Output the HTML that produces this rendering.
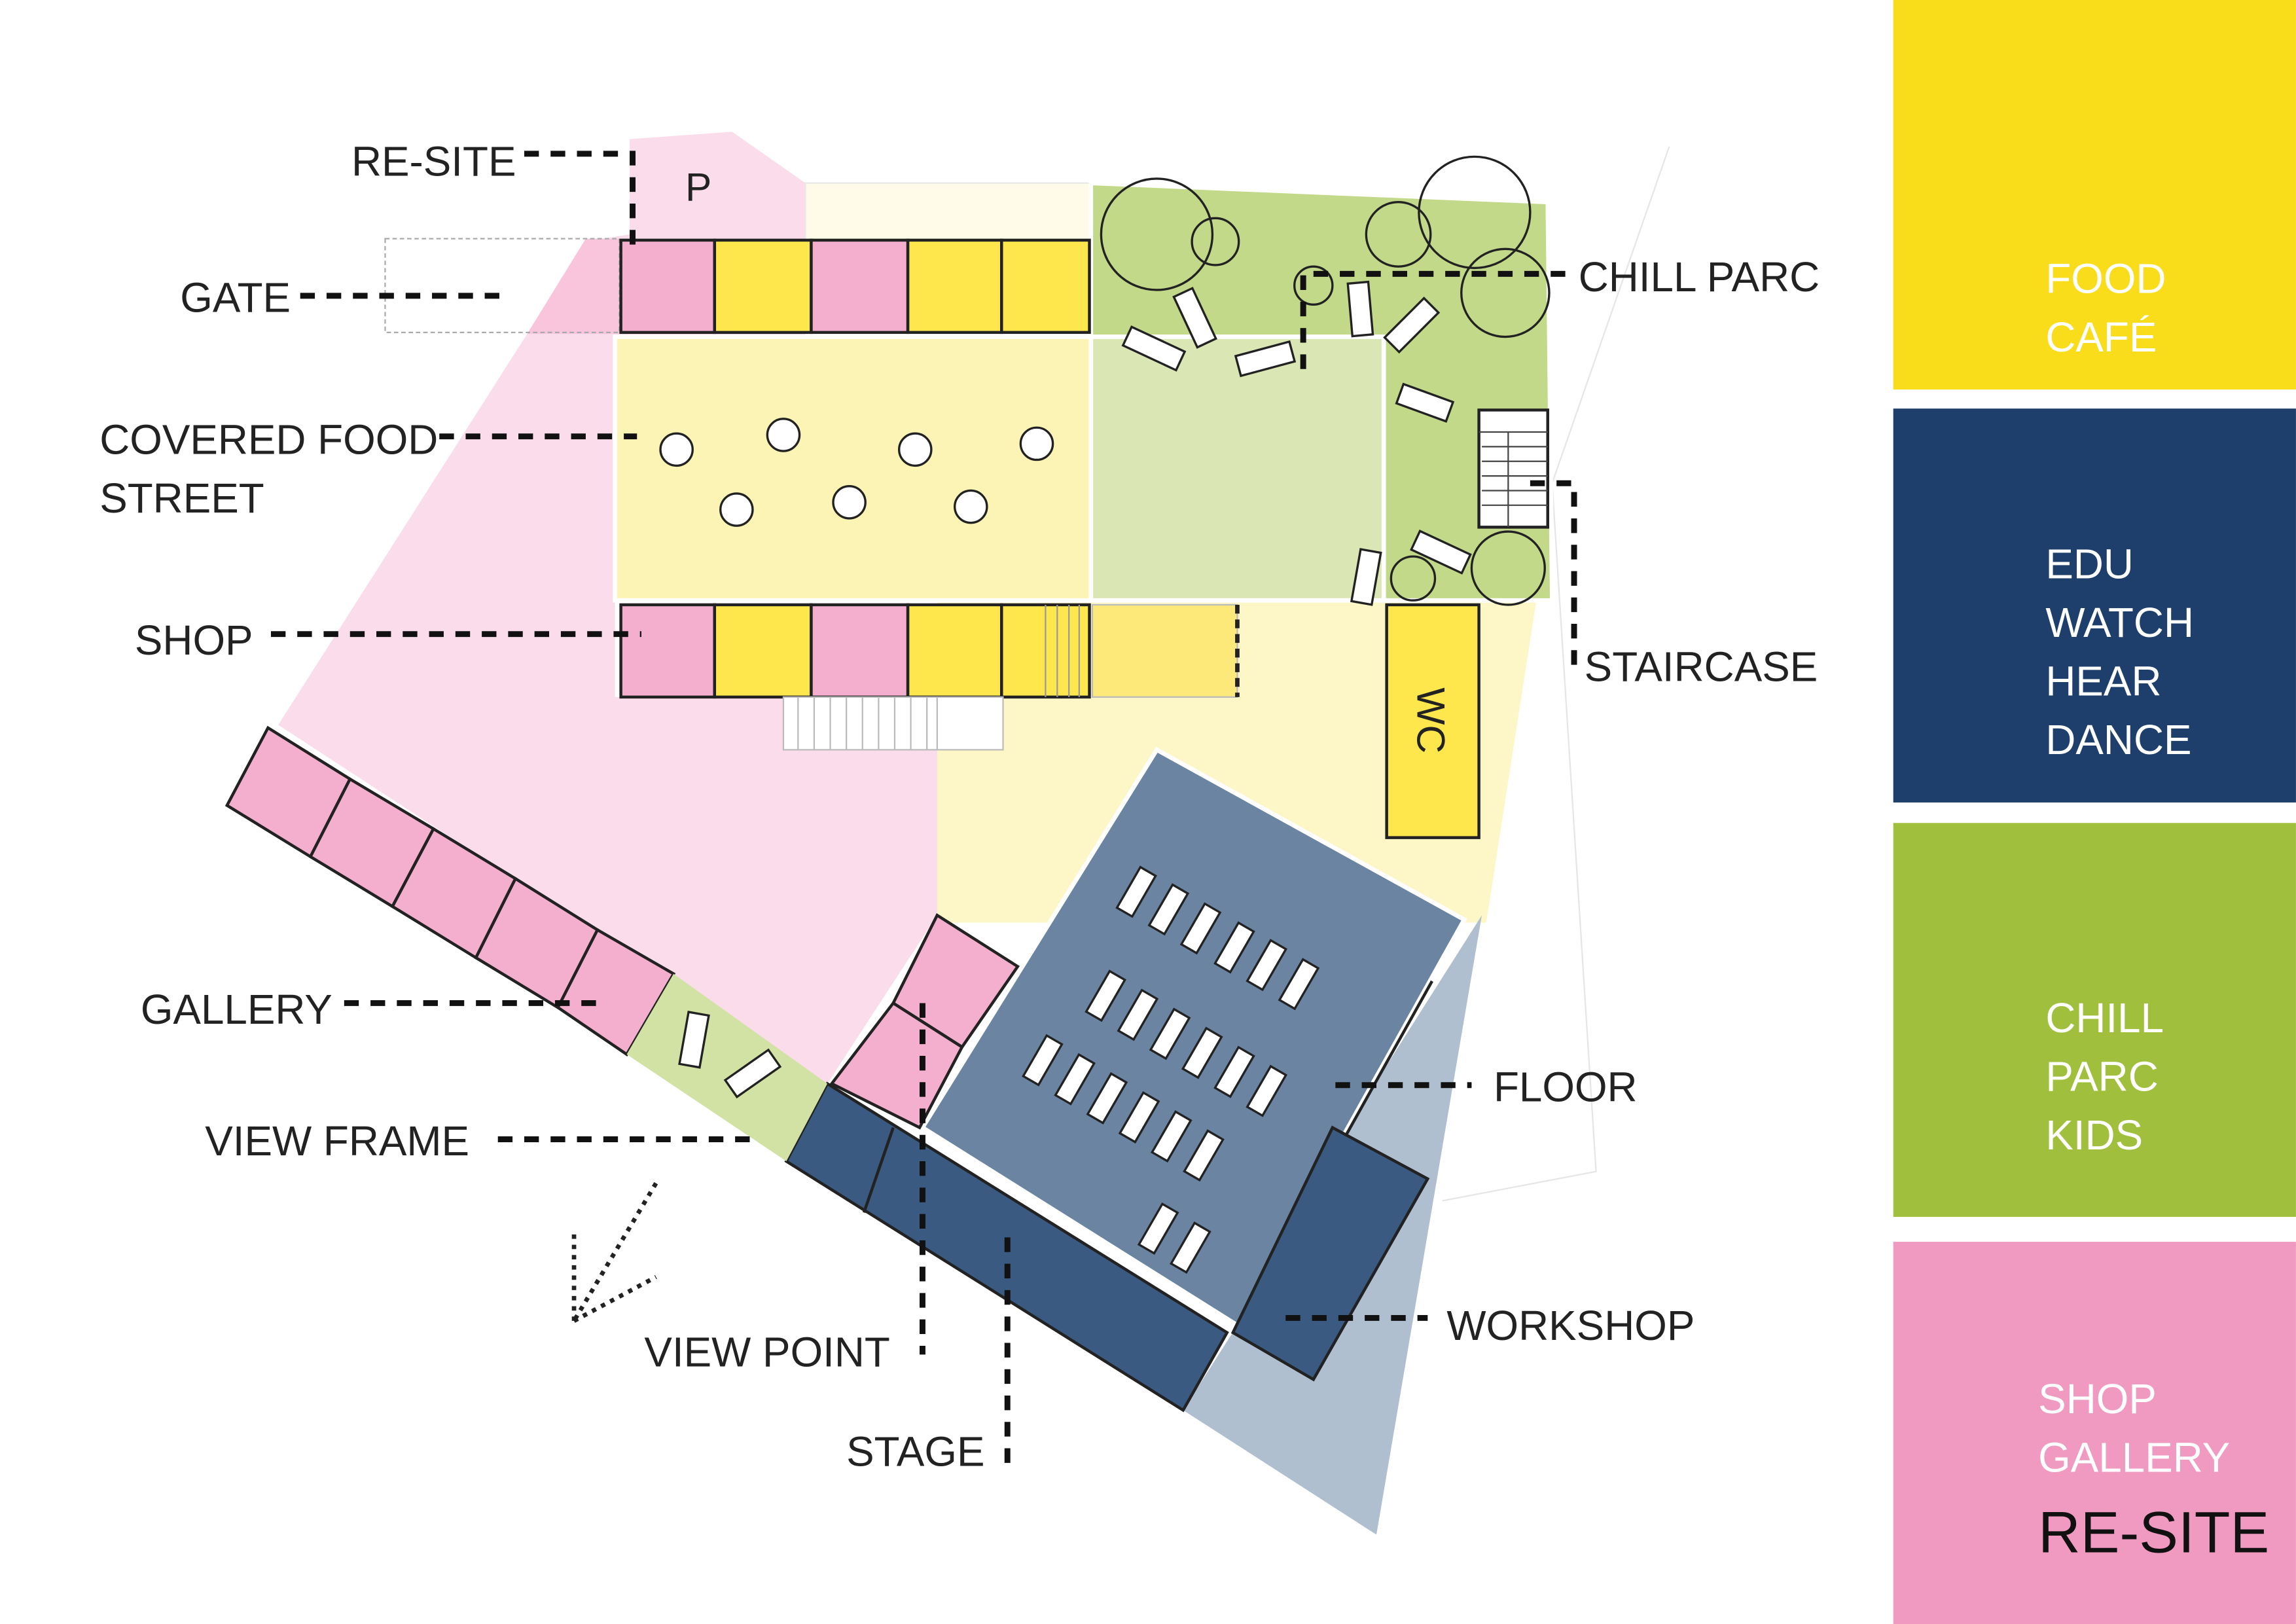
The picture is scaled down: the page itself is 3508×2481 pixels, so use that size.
<!DOCTYPE html>
<html><head><meta charset="utf-8"><style>
html,body{margin:0;padding:0;background:#fff;width:3508px;height:2481px;overflow:hidden}
svg{display:block}
text{font-family:"Liberation Sans",sans-serif}
</style></head><body>
<svg width="3508" height="2481" viewBox="0 0 1568 1109" xmlns="http://www.w3.org/2000/svg">
<!-- legend -->
<rect x="1293" y="0" width="275" height="266" fill="#f9dc1a"/>
<rect x="1293" y="279" width="275" height="269" fill="#1e3f6b"/>
<rect x="1293" y="562" width="275" height="269" fill="#a0bf3c"/>
<rect x="1293" y="848" width="275" height="261" fill="#f19ac1"/>
<g fill="#fff" font-size="28.5">
<text x="1397" y="200">FOOD</text><text x="1397" y="240">CAFÉ</text>
<text x="1397" y="395">EDU</text><text x="1397" y="435">WATCH</text><text x="1397" y="475">HEAR</text><text x="1397" y="515">DANCE</text>
<text x="1397" y="705">CHILL</text><text x="1397" y="745">PARC</text><text x="1397" y="785">KIDS</text>
<text x="1392" y="965">SHOP</text><text x="1392" y="1005">GALLERY</text>
</g>
<text x="1392" y="1060" font-size="40" fill="#111">RE-SITE</text>

<g fill="none" stroke="#e6e6e6" stroke-width="1">
<polyline points="1060,330 1140,100"/><polyline points="1060,330 1090,800 985,820"/>
</g>
<polygon points="640,405 1050,405 1015,630 640,630" fill="#fdf6c6"/>
<polygon points="430,95 500,90 550,125 550,230 420,230 420,476 640,476 640,625 565,740 190,495 360,228 400,165 430,160" fill="#fadcea"/>
<polygon points="263,228 360,228 400,165 263,165" fill="#fff"/>
<polygon points="360,228 423,228 423,163 400,163" fill="#f8c5dc"/>
<polygon points="550,125 745,125 745,165 550,165" fill="#fffbe8" stroke="#e8e8e8"/>
<polygon points="745,125 1057,138 1060,410 945,410 945,230 745,230" fill="#c3d98a" stroke="#fff" stroke-width="3"/>
<rect x="745" y="230" width="200" height="180" fill="#dbe6b5" stroke="#fff" stroke-width="3"/>
<rect x="420" y="230" width="325" height="180" fill="#fbf4b5" stroke="#fff" stroke-width="3"/>
<rect x="263" y="163" width="160" height="64" fill="none" stroke="#aaa" stroke-dasharray="3,2"/>

<g stroke="#222" stroke-width="2">
<rect x="424" y="164" width="64" height="63" fill="#f4afcf"/>
<rect x="488" y="164" width="66" height="63" fill="#fde74c"/>
<rect x="554" y="164" width="66" height="63" fill="#f4afcf"/>
<rect x="620" y="164" width="64" height="63" fill="#fde74c"/>
<rect x="684" y="164" width="60" height="63" fill="#fde74c"/>
<rect x="424" y="413" width="64" height="63" fill="#f4afcf"/>
<rect x="488" y="413" width="66" height="63" fill="#fde74c"/>
<rect x="554" y="413" width="66" height="63" fill="#f4afcf"/>
<rect x="620" y="413" width="64" height="63" fill="#fde74c"/>
<rect x="684" y="413" width="60" height="63" fill="#fde74c"/>
</g>
<g stroke="#999" stroke-width="1"><line x1="714" y1="413" x2="714" y2="476"/><line x1="722" y1="413" x2="722" y2="476"/><line x1="730" y1="413" x2="730" y2="476"/><line x1="737" y1="413" x2="737" y2="476"/></g>
<rect x="746" y="413" width="99" height="63" fill="#fde97a" stroke="#bbb"/>
<line x1="845" y1="413" x2="845" y2="476" stroke="#222" stroke-width="3" stroke-dasharray="6,4"/>
<rect x="535" y="476" width="150" height="36" fill="#fff" stroke="#bbb"/>
<g stroke="#bbb"><line x1="545" y1="476" x2="545" y2="512"/><line x1="556" y1="476" x2="556" y2="512"/><line x1="567" y1="476" x2="567" y2="512"/><line x1="578" y1="476" x2="578" y2="512"/><line x1="589" y1="476" x2="589" y2="512"/><line x1="600" y1="476" x2="600" y2="512"/><line x1="611" y1="476" x2="611" y2="512"/><line x1="622" y1="476" x2="622" y2="512"/><line x1="633" y1="476" x2="633" y2="512"/><line x1="640" y1="476" x2="640" y2="512"/></g>
<text x="468" y="137" font-size="27" fill="#222">P</text>

<rect x="947" y="413" width="63" height="159" fill="#fde74c" stroke="#222" stroke-width="2"/>
<text transform="translate(968,492) rotate(90)" font-size="27" fill="#222" text-anchor="middle">WC</text>
<rect x="1010" y="280" width="47" height="80" fill="#fff" stroke="#222" stroke-width="2"/>
<g stroke="#444" stroke-width="1"><line x1="1010" y1="295" x2="1057" y2="295"/><line x1="1012" y1="305" x2="1057" y2="305"/><line x1="1012" y1="315" x2="1057" y2="315"/><line x1="1012" y1="325" x2="1057" y2="325"/><line x1="1012" y1="335" x2="1057" y2="335"/><line x1="1012" y1="345" x2="1057" y2="345"/><line x1="1030" y1="295" x2="1030" y2="360"/></g>

<polygon points="1012,625 940,1048 808,963 845,905 920,770" fill="#b0bfd0"/>
<polygon points="790,512 1000,628 845,905 630,770" fill="#6a84a2" stroke="#fff" stroke-width="3"/>
<line x1="978" y1="670" x2="897" y2="815" stroke="#222" stroke-width="2"/>
<polygon points="565,740 838,910 808,963 537,793" fill="#3a5a82" stroke="#222" stroke-width="2"/>
<line x1="610" y1="770" x2="590" y2="828" stroke="#222" stroke-width="2"/>
<polygon points="910,770 975,805 897,942 842,910" fill="#3a5a82" stroke="#222" stroke-width="2"/>

<g stroke="#222" stroke-width="2" fill="#f4afcf">
<polygon points="183,497 239,532 212,585 155,550"/>
<polygon points="239,532 296,566 268,619 212,585"/>
<polygon points="296,566 352,600 325,654 268,619"/>
<polygon points="352,600 408,635 381,688 325,654"/>
<polygon points="408,635 460,665 428,720 381,688"/>
<polygon points="640,625 695,660 657,715 610,685"/>
<polygon points="610,685 657,715 628,770 568,740"/>
</g>
<polygon points="460,665 565,740 537,793 428,720" fill="#d2e2a4"/>
<g fill="#fff" stroke="#222" stroke-width="1.5">
<rect x="467" y="692" width="14" height="36" transform="rotate(10 474 710)"/>
<rect x="507" y="715" width="14" height="36" transform="rotate(55 514 733)"/>
</g>

<g fill="#fff" stroke="#222" stroke-width="1.5">
<rect x="770" y="593" width="12" height="32" transform="rotate(30 776 609)"/>
<rect x="792" y="605" width="12" height="32" transform="rotate(30 798 621)"/>
<rect x="814" y="618" width="12" height="32" transform="rotate(30 820 634)"/>
<rect x="837" y="631" width="12" height="32" transform="rotate(30 843 647)"/>
<rect x="859" y="643" width="12" height="32" transform="rotate(30 865 659)"/>
<rect x="881" y="656" width="12" height="32" transform="rotate(30 887 672)"/>
<rect x="749" y="664" width="12" height="32" transform="rotate(30 755 680)"/>
<rect x="771" y="677" width="12" height="32" transform="rotate(30 777 693)"/>
<rect x="793" y="690" width="12" height="32" transform="rotate(30 799 706)"/>
<rect x="815" y="703" width="12" height="32" transform="rotate(30 821 719)"/>
<rect x="837" y="716" width="12" height="32" transform="rotate(30 843 732)"/>
<rect x="859" y="729" width="12" height="32" transform="rotate(30 865 745)"/>
<rect x="706" y="708" width="12" height="32" transform="rotate(30 712 724)"/>
<rect x="728" y="721" width="12" height="32" transform="rotate(30 734 737)"/>
<rect x="750" y="734" width="12" height="32" transform="rotate(30 756 750)"/>
<rect x="772" y="747" width="12" height="32" transform="rotate(30 778 763)"/>
<rect x="794" y="760" width="12" height="32" transform="rotate(30 800 776)"/>
<rect x="816" y="773" width="12" height="32" transform="rotate(30 822 789)"/>
<rect x="785" y="823" width="12" height="32" transform="rotate(30 791 839)"/>
<rect x="807" y="836" width="12" height="32" transform="rotate(30 813 852)"/>
</g>

<g fill="#fff" stroke="#222" stroke-width="1.5">
<circle cx="462" cy="307" r="11"/><circle cx="535" cy="297" r="11"/><circle cx="625" cy="307" r="11"/><circle cx="708" cy="303" r="11"/>
<circle cx="503" cy="348" r="11"/><circle cx="580" cy="343" r="11"/><circle cx="663" cy="346" r="11"/>
</g>
<g fill="#fff" stroke="#222" stroke-width="1.5">
<rect x="768" y="231" width="40" height="14" transform="rotate(25 788 238)"/>
<rect x="809" y="198" width="14" height="38" transform="rotate(-25 816 217)"/>
<rect x="845" y="238" width="38" height="14" transform="rotate(-15 864 245)"/>
<rect x="922" y="193" width="14" height="36" transform="rotate(-5 929 211)"/>
<rect x="945" y="215" width="38" height="14" transform="rotate(-45 964 222)"/>
<rect x="955" y="268" width="36" height="14" transform="rotate(20 973 275)"/>
<rect x="965" y="370" width="38" height="14" transform="rotate(25 984 377)"/>
<rect x="926" y="376" width="14" height="36" transform="rotate(10 933 394)"/>
</g>
<g fill="none" stroke="#222" stroke-width="1.5">
<circle cx="790" cy="160" r="38"/><circle cx="830" cy="165" r="16"/>
<circle cx="955" cy="160" r="22"/><circle cx="1007" cy="145" r="38"/><circle cx="1028" cy="200" r="30"/>
<circle cx="897" cy="195" r="13"/><circle cx="965" cy="395" r="15"/><circle cx="1030" cy="388" r="25"/>
</g>

<g stroke="#222" stroke-width="3" stroke-dasharray="3,4" fill="none">
<line x1="448" y1="808" x2="392" y2="902"/><line x1="392" y1="902" x2="392" y2="840"/><line x1="392" y1="902" x2="448" y2="872"/>
</g>

<g stroke="#111" stroke-width="4" stroke-dasharray="10,8" fill="none">
<polyline points="358,105 432,105 432,170"/>
<line x1="205" y1="202" x2="345" y2="202"/>
<line x1="300" y1="298" x2="435" y2="298"/>
<line x1="185" y1="433" x2="438" y2="433"/>
<line x1="235" y1="685" x2="415" y2="685"/>
<line x1="340" y1="778" x2="515" y2="778"/>
<polyline points="890,252 890,187 1075,187"/>
<polyline points="1045,330 1075,330 1075,455"/>
<line x1="912" y1="741" x2="1005" y2="741"/>
<line x1="878" y1="900" x2="975" y2="900"/>
<line x1="630" y1="685" x2="630" y2="925"/>
<line x1="688" y1="845" x2="688" y2="1000"/>
</g>

<g font-size="28.5" fill="#222">
<text x="240" y="120">RE-SITE</text>
<text x="123" y="213">GATE</text>
<text x="68" y="310">COVERED FOOD</text><text x="68" y="350">STREET</text>
<text x="92" y="447">SHOP</text>
<text x="96" y="699">GALLERY</text>
<text x="140" y="789">VIEW FRAME</text>
<text x="1078" y="199">CHILL PARC</text>
<text x="1082" y="465">STAIRCASE</text>
<text x="1020" y="752">FLOOR</text>
<text x="988" y="915">WORKSHOP</text>
<text x="440" y="933">VIEW POINT</text>
<text x="578" y="1001">STAGE</text>
</g>
</svg>
</body></html>
